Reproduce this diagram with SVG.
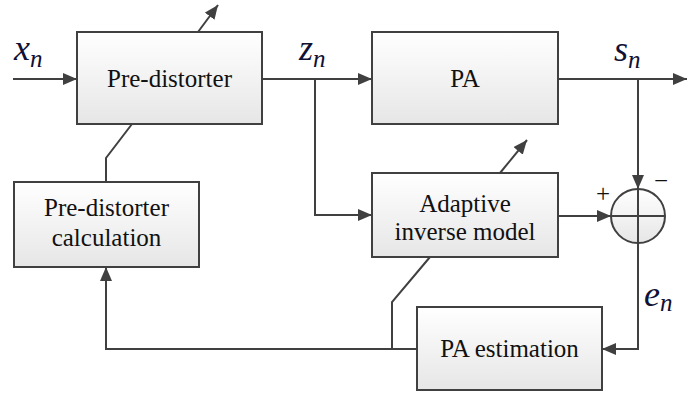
<svg xmlns="http://www.w3.org/2000/svg" width="687" height="393" viewBox="0 0 687 393">
  <defs>
    <linearGradient id="boxFill" x1="0" y1="0" x2="0" y2="1">
      <stop offset="0" stop-color="#ffffff"/>
      <stop offset="1" stop-color="#e6e6e6"/>
    </linearGradient>
    <marker id="arrow" markerUnits="userSpaceOnUse" markerWidth="14" markerHeight="12" viewBox="0 0 14 12" refX="14" refY="6" orient="auto">
      <path d="M0,0 L14,6 L0,12 Z" fill="#404040"/>
    </marker>
    <style>
      .box { fill: url(#boxFill); stroke: #404040; stroke-width: 2; }
      .wire { fill: none; stroke: #404040; stroke-width: 2; }
      .arr { marker-end: url(#arrow); }
      .label { font-family: "Liberation Serif", "Times New Roman", serif; font-size: 25px; fill: #111111; text-anchor: middle; }
      .math { font-family: "Liberation Serif", "Times New Roman", serif; font-style: italic; font-size: 36px; fill: #111133; }
      .sub { font-size: 25px; }
    </style>
  </defs>

  <!-- signal paths -->
  <g id="connectors">
    <path class="wire arr" d="M13,79 H77"/>
    <path class="wire arr" d="M262,79 H372"/>
    <path class="wire arr" d="M315,79 V215 H372"/>
    <path class="wire arr" d="M558,79 H687"/>
    <path class="wire arr" d="M638,79 V189"/>
    <path class="wire arr" d="M558,216 H611"/>
    <path class="wire arr" d="M638,243 V349 H602"/>
    <path class="wire arr" d="M417,349 H106 V267"/>
    <path class="wire" d="M392,349 V302 L430,257"/>
    <path class="wire" d="M106,182 V158 L132,124"/>
    <path class="wire arr" d="M198,32 L218,5"/>
    <path class="wire arr" d="M500,173 L527,140"/>
  </g>

  <g id="predistorter">
    <rect class="box" x="77" y="32" width="185" height="92"/>
    <text class="label" x="169.5" y="87">Pre-distorter</text>
  </g>

  <g id="pa">
    <rect class="box" x="372" y="32" width="186" height="92"/>
    <text class="label" x="465" y="87">PA</text>
  </g>

  <g id="predistorter-calculation">
    <rect class="box" x="14" y="182" width="185" height="85"/>
    <text class="label" x="106.5" y="216">Pre-distorter</text>
    <text class="label" x="106.5" y="246">calculation</text>
  </g>

  <g id="adaptive-inverse-model">
    <rect class="box" x="372" y="173" width="186" height="84"/>
    <text class="label" x="465" y="212">Adaptive</text>
    <text class="label" x="465" y="240">inverse model</text>
  </g>

  <g id="pa-estimation">
    <rect class="box" x="417" y="307" width="185" height="83"/>
    <text class="label" x="509.5" y="357">PA estimation</text>
  </g>

  <g id="summing-junction">
    <circle class="box" cx="638" cy="216" r="27"/>
    <path class="wire" d="M611,216 H665 M638,189 V243"/>
    <text class="label" x="603" y="202" font-size="26">+</text>
    <text class="label" x="661" y="189" font-size="26">−</text>
  </g>

  <g id="signal-labels">
    <text class="math" x="14" y="60">x<tspan class="sub" dy="7">n</tspan></text>
    <text class="math" x="299" y="60">z<tspan class="sub" dy="7">n</tspan></text>
    <text class="math" x="614" y="61">s<tspan class="sub" dy="7">n</tspan></text>
    <text class="math" x="644" y="306">e<tspan class="sub" dy="5">n</tspan></text>
  </g>
</svg>
